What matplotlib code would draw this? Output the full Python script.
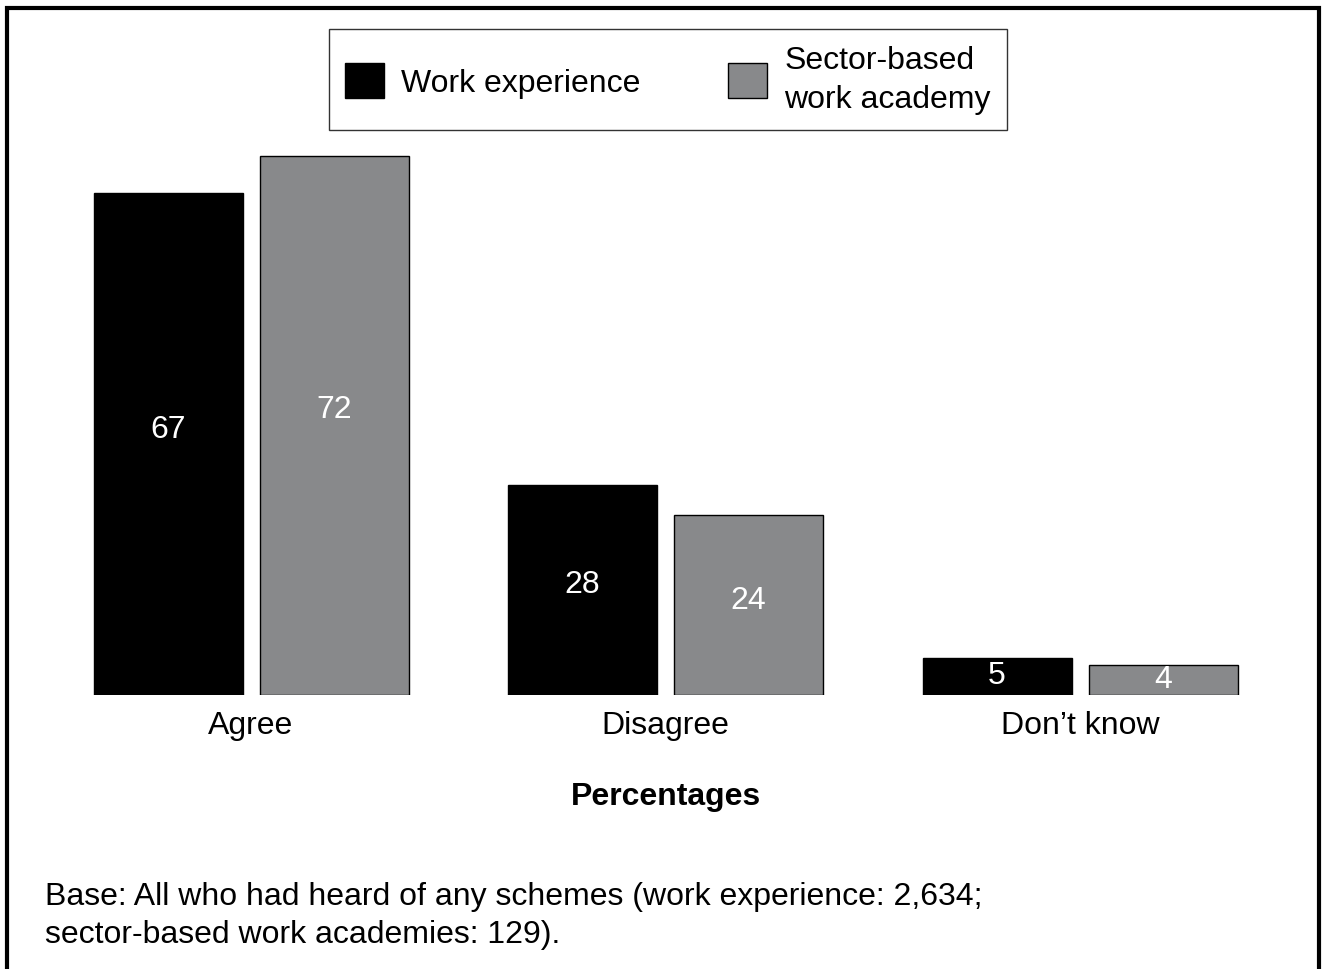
import matplotlib.pyplot as plt
from matplotlib.patches import Rectangle, Patch
import numpy as np

plt.rcParams['font.family'] = ['Liberation Sans', 'DejaVu Sans']

# datos
categorias = ['Agree', 'Disagree', 'Don\u2019t know']
work_experience = [67, 28, 5]
sector_academy = [72, 24, 4]
series_labels = ['Work experience', 'Sector-based\nwork academy']
colores = ['#000000', '#88898b']

FS = 23
W, H = 1322, 970
fig = plt.figure(figsize=(W / 100, H / 100), dpi=100)

# axes en pixeles: baseline en y=695, escala ~7.49 px por unidad
left_px, right_px = 60, 1280
bottom_px, top_px = 696, 100
ax = fig.add_axes([left_px / W, 1 - bottom_px / H,
                   (right_px - left_px) / W, (bottom_px - top_px) / H])
paso = 414.5
ax.set_xlim((left_px - 251) / paso, (right_px - 251) / paso)
ax.set_ylim(0, (bottom_px - top_px) / 7.49)

x = np.arange(len(categorias))
ancho = 149 / paso
off = 83 / paso

b1 = ax.bar(x - off, work_experience, ancho, color=colores[0], edgecolor='black', linewidth=1)
b2 = ax.bar(x + off, sector_academy, ancho, color=colores[1], edgecolor='black', linewidth=1)

for barras, vals in [(b1, work_experience), (b2, sector_academy)]:
    for rect, v in zip(barras, vals):
        ax.text(rect.get_x() + rect.get_width() / 2, v * 0.53, str(v),
                ha='center', va='center', color='white', fontsize=FS)

ax.set_xticks(x)
ax.set_xticklabels(categorias, fontsize=FS)
ax.tick_params(axis='x', length=0, pad=11)
ax.set_yticks([])
for s in ax.spines.values():
    s.set_visible(False)

handles = [Patch(facecolor=colores[0], edgecolor='black', linewidth=1),
           Patch(facecolor=colores[1], edgecolor='black', linewidth=1)]
leg = fig.legend(handles, series_labels, loc='upper center',
                 bbox_to_anchor=(668 / W, 1 - 30 / H), ncol=2, fontsize=FS,
                 frameon=True, fancybox=False, edgecolor='black',
                 handlelength=1.2, handleheight=1.3, handletextpad=0.55,
                 columnspacing=2.75, borderpad=0.5, borderaxespad=0)
leg.get_frame().set_linewidth(1)
for t in leg.get_texts():
    t.set_linespacing(1.38)

fig.text(666 / W, 1 - 797 / H, 'Percentages', ha='center', va='center',
         fontsize=FS, fontweight='bold')
fig.text(45 / W, 1 - 882 / H,
         'Base: All who had heard of any schemes (work experience: 2,634;\n'
         'sector-based work academies: 129).',
         ha='left', va='top', fontsize=FS, linespacing=1.36)

# marco exterior
fig.add_artist(Rectangle((6.5 / W, -0.05), (1312 / W), 1 + 0.05 - 8.5 / H,
                         transform=fig.transFigure, fill=False,
                         edgecolor='black', linewidth=3))

fig.savefig('out.png', dpi=100, facecolor='white')
